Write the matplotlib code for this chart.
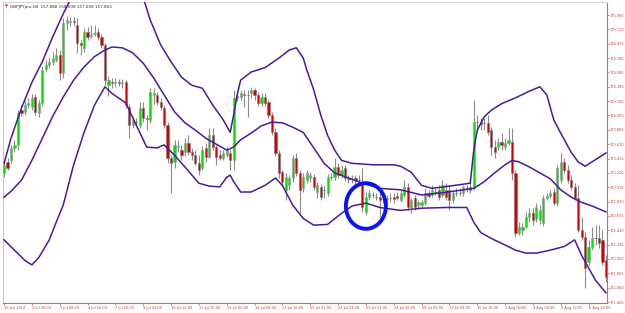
import numpy as np
import matplotlib
matplotlib.use("Agg")
import matplotlib.pyplot as plt
from matplotlib.patches import Ellipse

# GBPJPY H4 candles, 30 Jun - 6 Aug 2014 (one value per bar)
opens = [
    173.22, 173.37, 173.39, 173.56, 173.60, 174.07, 174.05, 174.14, 174.12, 174.25,
    174.03, 174.17, 174.63, 174.69, 174.73, 174.75, 174.82, 174.58, 175.26, 175.27,
    175.28, 175.23, 174.99, 174.92, 175.14, 175.08, 175.11, 175.14, 175.07, 174.96,
    174.41, 174.45, 174.44, 174.45, 174.44, 174.45, 174.12, 173.87, 173.91, 173.87,
    174.10, 173.97, 173.94, 174.28, 174.28, 174.18, 174.10, 173.87, 173.42, 173.37,
    173.57, 173.53, 173.50, 173.63, 173.50, 173.46, 173.35, 173.29, 173.56, 173.44,
    173.73, 173.57, 173.46, 173.42, 173.46, 173.49, 173.39, 174.24, 174.25, 174.29,
    174.28, 174.31, 174.35, 174.28, 174.17, 174.25, 174.18, 174.01, 173.77, 173.49,
    173.23, 172.99, 173.05, 173.15, 173.42, 173.22, 173.01, 173.12, 173.15, 173.16,
    172.96, 173.03, 172.99, 172.95, 173.16, 173.16, 173.30, 173.19, 173.29, 173.14,
    173.14, 173.15, 173.12, 173.08, 172.69, 172.89, 172.92, 172.89, 172.89, 172.86,
    172.86, 172.88, 172.89, 172.90, 172.85, 172.92, 173.03, 172.75, 172.88, 172.78,
    172.78, 172.81, 172.95, 172.92, 172.96, 172.99, 172.92, 172.99, 172.99, 172.85,
    172.95, 172.95, 172.95, 173.01, 173.03, 173.01, 173.91, 173.91, 173.90, 173.90,
    173.80, 173.57, 173.57, 173.64, 173.57, 173.63, 173.64, 173.22, 172.40, 172.44,
    172.48, 172.62, 172.67, 172.60, 172.58, 172.54, 172.88, 172.90, 172.96, 172.81,
    173.12, 173.37, 173.26, 173.12, 173.03, 172.88, 172.44, 172.35, 172.01, 172.21,
    172.33, 172.33, 172.31, 172.03,
]
highs = [
    173.39, 173.42, 173.60, 173.67, 174.07, 174.14, 174.21, 174.24, 174.29, 174.29,
    174.21, 174.67, 174.75, 174.80, 174.86, 174.92, 174.89, 175.33, 175.35, 175.34,
    175.34, 175.33, 175.03, 175.19, 175.20, 175.23, 175.23, 175.19, 175.11, 174.99,
    174.54, 174.51, 174.51, 174.50, 174.50, 174.48, 174.16, 173.98, 173.97, 174.18,
    174.18, 174.01, 174.37, 174.37, 174.32, 174.24, 174.14, 173.91, 173.46, 173.67,
    173.67, 173.60, 173.69, 173.73, 173.56, 173.53, 173.46, 173.58, 173.63, 173.83,
    173.83, 173.60, 173.53, 173.53, 173.57, 173.53, 174.35, 174.31, 174.35, 174.35,
    174.35, 174.39, 174.37, 174.32, 174.31, 174.31, 174.21, 174.05, 173.83, 173.53,
    173.26, 173.22, 173.19, 173.46, 173.49, 173.26, 173.22, 173.26, 173.23, 173.20,
    173.10, 173.07, 173.05, 173.20, 173.22, 173.42, 173.35, 173.33, 173.33, 173.19,
    173.19, 173.19, 173.19, 173.29, 172.96, 172.99, 172.96, 172.95, 172.95, 172.90,
    172.92, 172.95, 172.95, 172.96, 172.99, 173.12, 173.08, 172.88, 172.92, 172.85,
    172.85, 173.01, 172.99, 173.05, 173.01, 173.05, 173.12, 173.08, 173.05, 172.99,
    173.01, 173.01, 173.05, 173.05, 173.12, 174.21, 174.01, 173.97, 173.97, 174.01,
    173.84, 173.67, 173.69, 173.76, 173.69, 173.83, 173.83, 173.26, 172.55, 172.54,
    172.69, 172.74, 172.74, 172.81, 172.78, 172.92, 172.95, 172.99, 173.01, 173.33,
    173.49, 173.42, 173.33, 173.19, 173.08, 173.05, 172.62, 172.42, 172.31, 172.48,
    172.51, 172.51, 172.44, 172.10,
]
lows = [
    173.16, 173.26, 173.35, 173.50, 173.53, 173.99, 174.01, 174.10, 174.07, 174.01,
    173.98, 174.13, 174.59, 174.65, 174.69, 174.73, 174.48, 174.51, 175.16, 175.22,
    175.22, 174.85, 174.82, 174.86, 175.03, 175.05, 175.08, 175.03, 174.92, 174.41,
    174.26, 174.37, 174.39, 174.40, 174.37, 174.10, 173.69, 173.83, 173.87, 173.83,
    173.91, 173.80, 173.90, 174.16, 174.14, 174.07, 173.83, 173.35, 172.95, 173.29,
    173.50, 173.39, 173.45, 173.46, 173.39, 173.33, 173.19, 173.26, 173.37, 173.42,
    173.53, 173.33, 173.39, 173.39, 173.44, 173.26, 173.26, 174.20, 174.21, 174.12,
    173.98, 174.24, 174.21, 174.13, 174.13, 174.13, 173.97, 173.73, 173.45, 173.15,
    173.04, 172.85, 172.99, 173.10, 173.18, 172.67, 172.96, 173.08, 173.10, 172.99,
    172.88, 172.85, 172.88, 172.90, 173.12, 173.12, 173.15, 173.15, 173.11, 173.08,
    173.08, 173.01, 173.05, 172.69, 172.65, 172.85, 172.88, 172.85, 172.62, 172.81,
    172.82, 172.82, 172.81, 172.85, 172.82, 172.89, 172.71, 172.67, 172.71, 172.74,
    172.75, 172.78, 172.88, 172.89, 172.92, 172.85, 172.89, 172.85, 172.71, 172.81,
    172.90, 172.90, 172.90, 172.96, 172.95, 172.99, 173.80, 173.80, 173.80, 173.73,
    173.46, 173.42, 173.53, 173.53, 173.53, 173.60, 173.12, 172.35, 172.37, 172.37,
    172.47, 172.55, 172.51, 172.55, 172.52, 172.50, 172.85, 172.88, 172.78, 172.77,
    173.08, 173.22, 173.08, 172.99, 172.85, 172.42, 172.31, 171.66, 171.97, 172.17,
    172.24, 172.20, 171.97, 171.74,
]
closes = [
    173.33, 173.29, 173.56, 173.60, 174.03, 174.03, 174.14, 174.17, 174.24, 174.05,
    174.17, 174.62, 174.69, 174.73, 174.78, 174.82, 174.58, 175.26, 175.30, 175.28,
    175.27, 174.99, 174.96, 175.14, 175.07, 175.09, 175.12, 175.07, 174.96, 174.48,
    174.48, 174.44, 174.45, 174.44, 174.44, 174.14, 173.87, 173.94, 173.91, 174.10,
    173.97, 173.95, 174.32, 174.31, 174.18, 174.12, 173.87, 173.42, 173.35, 173.60,
    173.58, 173.46, 173.63, 173.50, 173.46, 173.35, 173.26, 173.53, 173.44, 173.73,
    173.57, 173.44, 173.42, 173.49, 173.53, 173.39, 174.24, 174.26, 174.31, 174.28,
    174.28, 174.35, 174.28, 174.17, 174.25, 174.17, 174.01, 173.77, 173.49, 173.22,
    173.10, 173.16, 173.15, 173.42, 173.22, 172.99, 173.16, 173.22, 173.19, 173.03,
    173.05, 172.89, 172.99, 173.16, 173.16, 173.30, 173.19, 173.26, 173.15, 173.14,
    173.14, 173.12, 173.12, 172.75, 172.89, 172.95, 172.92, 172.89, 172.85, 172.86,
    172.86, 172.88, 172.86, 172.88, 172.95, 173.03, 172.75, 172.85, 172.75, 172.82,
    172.82, 172.95, 172.90, 172.99, 172.96, 172.89, 173.05, 172.89, 172.85, 172.95,
    172.95, 172.95, 173.03, 173.01, 172.99, 173.91, 173.91, 173.88, 173.90, 173.77,
    173.57, 173.50, 173.64, 173.60, 173.63, 173.67, 173.22, 172.40, 172.48, 172.48,
    172.62, 172.67, 172.58, 172.75, 172.71, 172.88, 172.90, 172.95, 172.81, 173.29,
    173.37, 173.26, 173.12, 173.03, 172.88, 172.44, 172.35, 171.93, 172.21, 172.33,
    172.33, 172.27, 172.01, 171.80,
]

# Bollinger bands (bar index, price)
upper_bar = [0, 2, 5, 8, 11, 14, 17, 19, 21, 24, 27, 28, 31, 34, 37, 40, 42, 45, 48, 51,
             54, 57, 60, 63, 65, 66, 67, 68, 71, 75, 79, 82, 84, 86, 87, 89, 91, 93, 95, 97,
             100, 106, 112, 114, 117, 120, 123, 128, 134, 135, 136, 138, 140, 143, 147, 151,
             154, 156, 158, 160, 163, 165, 167, 169, 171, 173]
upper = [173.35, 173.69, 174.10, 174.45, 174.73, 175.07, 175.38, 175.57, 175.71, 175.81,
         175.80, 175.76, 175.70, 175.66, 175.64, 175.60, 175.30, 174.96, 174.73, 174.52,
         174.41, 174.37, 174.14, 173.94, 173.77, 174.01, 174.28, 174.48, 174.59, 174.65,
         174.78, 174.89, 174.92, 174.78, 174.62, 174.35, 174.01, 173.73, 173.53, 173.39,
         173.35, 173.33, 173.33, 173.31, 173.23, 173.05, 173.01, 173.04, 173.08, 173.53,
         173.80, 173.98, 174.07, 174.16, 174.24, 174.33, 174.39, 174.28, 173.94, 173.76,
         173.50, 173.37, 173.31, 173.37, 173.43, 173.49]
middle_bar = [0, 2, 5, 8, 11, 14, 17, 20, 23, 26, 29, 31, 34, 37, 40, 43, 46, 49, 52, 55,
              58, 61, 64, 66, 68, 71, 74, 77, 80, 83, 86, 89, 92, 95, 99, 103, 108, 114, 120,
              126, 132, 135, 138, 141, 144, 146, 148, 151, 154, 157, 160, 163, 166, 169, 173]
middle = [172.89, 172.97, 173.12, 173.39, 173.69, 173.99, 174.25, 174.48, 174.66, 174.80,
          174.89, 174.93, 174.92, 174.85, 174.71, 174.51, 174.28, 174.05, 173.90, 173.80,
          173.69, 173.61, 173.53, 173.57, 173.67, 173.76, 173.86, 173.91, 173.90, 173.84,
          173.77, 173.56, 173.35, 173.22, 173.15, 173.08, 173.01, 172.99, 172.92, 172.95,
          172.99, 173.01, 173.10, 173.22, 173.33, 173.39, 173.37, 173.30, 173.22, 173.14,
          172.99, 172.89, 172.82, 172.77, 172.69]
lower_bar = [0, 3, 6, 8, 10, 13, 15, 17, 20, 23, 26, 29, 31, 35, 38, 41, 44, 46, 49, 52,
             56, 59, 62, 64, 65, 66, 68, 71, 75, 78, 80, 83, 86, 89, 93, 97, 100, 104, 108, 114,
             120, 127, 133, 135, 137, 140, 144, 147, 150, 153, 157, 161, 164, 166, 168, 170, 173]
lower = [172.31, 172.17, 172.03, 171.97, 172.07, 172.31, 172.55, 172.78, 173.33, 173.77,
         174.14, 174.39, 174.30, 174.17, 173.87, 173.57, 173.56, 173.60, 173.46, 173.30,
         173.08, 173.04, 173.03, 173.16, 173.19, 173.10, 172.96, 172.96, 173.05, 173.15,
         173.05, 172.78, 172.60, 172.51, 172.52, 172.67, 172.77, 172.81, 172.75, 172.71,
         172.74, 172.75, 172.75, 172.55, 172.41, 172.33, 172.24, 172.17, 172.13, 172.13,
         172.17, 172.22, 172.31, 172.10, 171.93, 171.76, 171.59]

tick_bars = list(range(0, 169, 8))
tick_labels = ["30 Jun 2014", "2 Jul 00:00", "3 Jul 08:00", "4 Jul 16:00", "7 Jul 20:00",
               "9 Jul 04:00", "10 Jul 12:00", "11 Jul 20:00", "15 Jul 00:00", "16 Jul 08:00",
               "17 Jul 16:00", "20 Jul 21:00", "22 Jul 04:00", "23 Jul 12:00", "24 Jul 20:00",
               "28 Jul 00:00", "29 Jul 08:00", "30 Jul 16:00", "1 Aug 00:00", "4 Aug 04:00",
               "5 Aug 12:00", "6 Aug 20:00"]
price_ticks = np.round(171.465 + 0.195 * np.arange(21), 3)

title = "GBPJPYpro,H4  157.888 158.008 157.608 157.865"

axis_col = "#d06a6a"
label_col = "#b84040"

fig = plt.figure(figsize=(6.25, 3.13), dpi=100)
ax = fig.add_axes([3 / 625, 10 / 313, 604 / 625, 301 / 313])

o = np.array(opens)
h = np.array(highs)
l = np.array(lows)
c = np.array(closes)
x = np.arange(len(c))

# wicks
ax.vlines(x, l, h, color="#8c8c8c", lw=0.8, zorder=2)

# bodies
up = c > o
down = c < o
flat = c == o
w = 0.62
ax.bar(x[up], (c - o)[up], bottom=o[up], width=w, color="#00e000",
       edgecolor="#9a9a9a", linewidth=0.4, zorder=3)
ax.bar(x[down], (o - c)[down], bottom=c[down], width=w, color="#d40000",
       edgecolor="#7a7a7a", linewidth=0.4, zorder=3)
ax.hlines(c[flat], x[flat] - w / 2, x[flat] + w / 2, color="#707070", lw=0.8, zorder=3)

# bands
band_col = "#4a1a9c"
ax.plot(upper_bar, upper, color=band_col, lw=1.1, zorder=4)
ax.plot(middle_bar, middle, color=band_col, lw=1.1, zorder=4)
ax.plot(lower_bar, lower, color=band_col, lw=1.1, zorder=4)

# highlight circle
ax.add_patch(Ellipse((104.0, 172.77), 11.5, 0.62, fill=False,
                     edgecolor="#0a14f0", lw=2.8, zorder=5))

ax.set_xlim(-0.3, 173.3)
ax.set_ylim(171.452, 175.542)

ax.set_xticks(tick_bars)
ax.set_xticklabels(tick_labels)
for t in ax.get_xticklabels():
    t.set_horizontalalignment("left")
ax.yaxis.tick_right()
ax.set_yticks(price_ticks)
ax.set_yticklabels([f"{p:.3f}" for p in price_ticks])

ax.tick_params(axis="both", direction="out", length=1.5, width=0.6, color=axis_col,
               labelsize=2.5, labelcolor=label_col, pad=0.6)

ax.spines["left"].set_color("#e8b8b8")
ax.spines["top"].set_color("#d8d8d8")
ax.spines["right"].set_color(axis_col)
ax.spines["bottom"].set_color(axis_col)
for s in ax.spines.values():
    s.set_linewidth(0.8)

fig.text(5 / 625, 1 - 7 / 313, "\u25bc", color="#cc2020", fontsize=2.8, va="center")
fig.text(10 / 625, 1 - 7 / 313, title, color="#303030", fontsize=3.0, va="center")

fig.savefig("out.png", dpi=100)
